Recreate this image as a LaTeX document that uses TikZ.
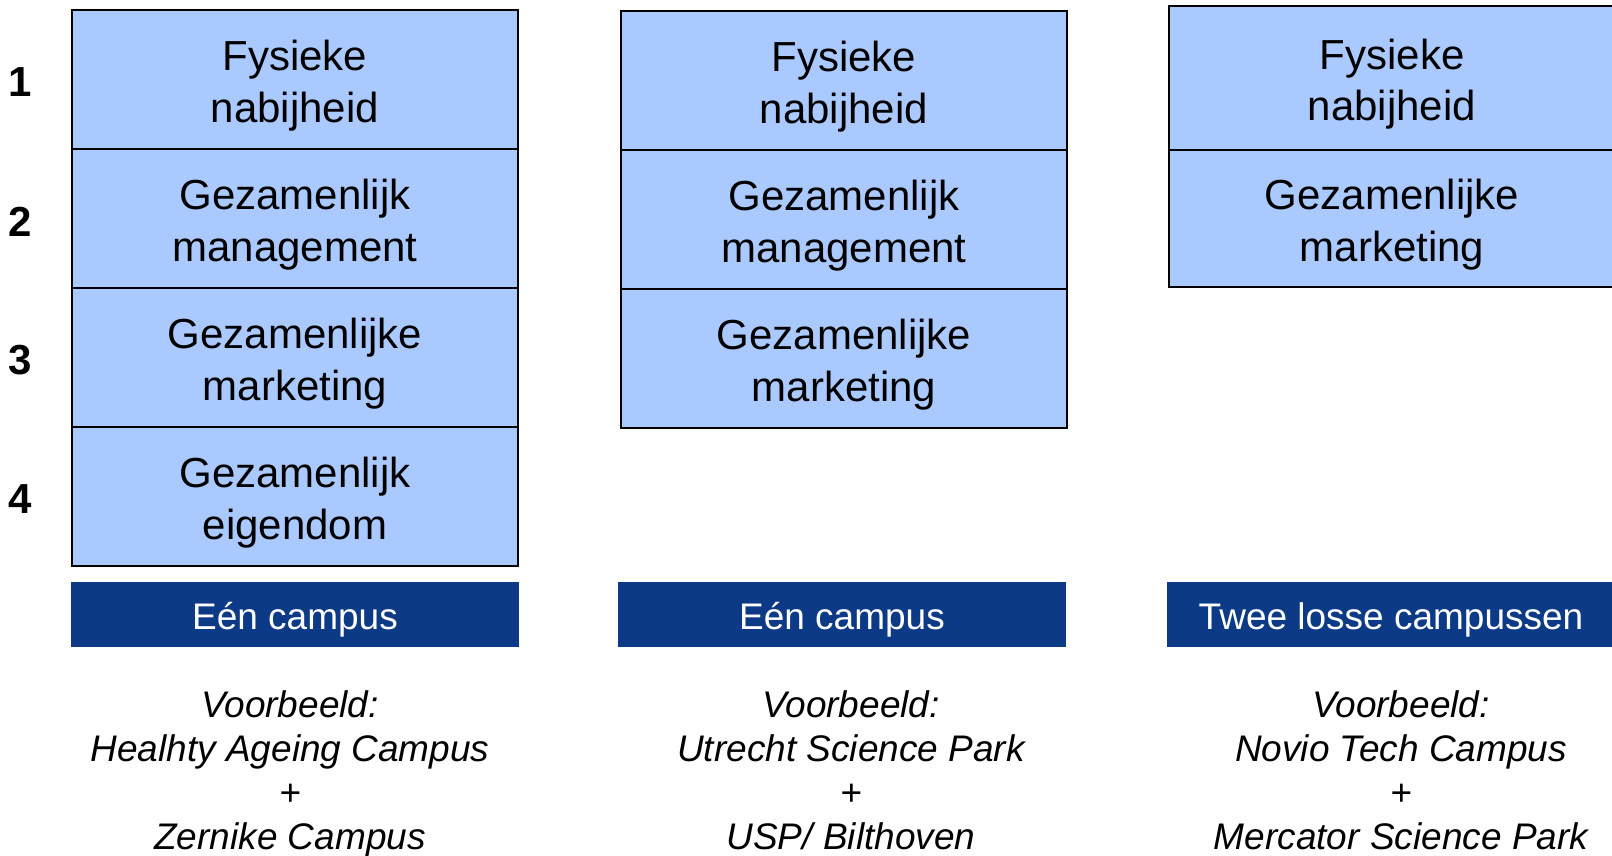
\documentclass[tikz,border=0pt]{standalone}
\usepackage{fontspec}
\setmainfont{Liberation Sans}
\usetikzlibrary{positioning}
\definecolor{cellblue}{RGB}{170,202,255}
\definecolor{barblue}{RGB}{12,58,135}

\begin{document}
\begin{tikzpicture}[x=1pt,y=-1pt,
  celltext/.style={align=center, inner sep=0pt, yshift=-6pt, font=\fontsize{42}{51.5}\selectfont},
  cell/.style={draw=black, line width=1.5pt, fill=cellblue, minimum width=446pt, minimum height=139pt,
    outer sep=0pt, inner sep=0pt, label={[celltext]center:{#1}}},
  bar/.style={fill=barblue, text=white, minimum width=448pt, minimum height=65pt, inner sep=0pt,
    text height=30pt, text depth=0pt, font=\fontsize{37}{44}\selectfont},
  example/.style={anchor=north, inner sep=0pt, align=center, font=\fontsize{37}{44.3}\itshape\selectfont},
  rank/.style={inner sep=0pt, yshift=-3pt, font=\fontsize{42}{50}\bfseries\selectfont}]

\useasboundingbox (0,0) rectangle (1612,855);

% kolom 1
\node[cell={Fysieke\\nabijheid}, anchor=north west] (fys1) at (72,10) {};
\node[cell={Gezamenlijk\\management}, below=0pt of fys1] (man1) {};
\node[cell={Gezamenlijke\\marketing}, below=0pt of man1] (mkt1) {};
\node[cell={Gezamenlijk\\eigendom}, below=0pt of mkt1] (eig1) {};

\node[rank, left=40pt of fys1] (n1) {1};
\node[rank, left=40pt of man1] (n2) {2};
\node[rank, left=40pt of mkt1] (n3) {3};
\node[rank, left=40pt of eig1] (n4) {4};

% kolom 2
\node[cell={Fysieke\\nabijheid}, anchor=north west] (fys2) at (621,11) {};
\node[cell={Gezamenlijk\\management}, below=0pt of fys2] (man2) {};
\node[cell={Gezamenlijke\\marketing}, below=0pt of man2] (mkt2) {};

% kolom 3
\node[cell={Fysieke\\nabijheid}, anchor=north west, minimum height=144pt] (fys3) at (1169,6) {};
\node[cell={Gezamenlijke\\marketing}, below=0pt of fys3, minimum height=137pt] (mkt3) {};

% balken
\node[bar] (bar1) at (295,614.5) {Eén campus};
\node[bar] (bar2) at (842,614.5) {Eén campus};
\node[bar] (bar3) at (1391,614.5) {Twee losse campussen};

% voorbeelden
\node[example] (vb1) at (290,690) {Voorbeeld:\\Healhty Ageing Campus\\+\\Zernike Campus};
\node[example] (vb2) at (851,690) {Voorbeeld:\\Utrecht Science Park\\+\\USP/ Bilthoven};
\node[example] (vb3) at (1401,690) {Voorbeeld:\\Novio Tech Campus\\+\\Mercator Science Park};

\end{tikzpicture}
\end{document}
